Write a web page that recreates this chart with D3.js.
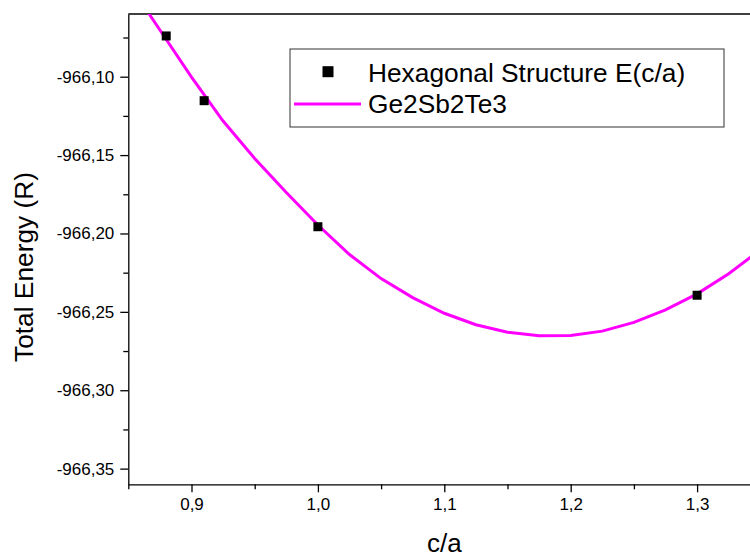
<!DOCTYPE html>
<html>
<head>
<meta charset="utf-8">
<script src="https://cdn.jsdelivr.net/npm/d3@7"></script>
<style>
    body { margin: 0; background: #fff; }
    svg text { font-family: "Liberation Sans", Arial, sans-serif; fill: #000; }
    .axis path, .axis line { stroke: #000; stroke-width: 1.3px; }
    .axis text { font-size: 17px; }
</style>
</head>
<body>
<svg id="chart" width="750" height="557"></svg>
<script>
// measured points: c/a ratio vs total energy (Ry)
const pointCa = [0.88, 0.91, 1.0, 1.3];
const pointEnergy = [-966.0740, -966.1153, -966.1957, -966.2394];

// fitted curve
const curveCa = [0.85, 0.875, 0.9, 0.925, 0.95, 0.975, 1.0, 1.025, 1.05, 1.075, 1.1,
    1.125, 1.15, 1.175, 1.2, 1.225, 1.25, 1.275, 1.3, 1.325, 1.35];
const curveEnergy = [-966.0402, -966.0702, -966.1002, -966.1283, -966.1522, -966.1739,
    -966.1946, -966.2134, -966.2288, -966.2409, -966.2509, -966.2582, -966.2630,
    -966.2653, -966.2651, -966.2623, -966.2567, -966.2487, -966.2385, -966.2257, -966.2105];

const xTicks = [0.9, 1.0, 1.1, 1.2, 1.3];
const xMinorTicks = [0.85, 0.95, 1.05, 1.15, 1.25, 1.35];
const yTicks = [-966.35, -966.30, -966.25, -966.20, -966.15, -966.10];
const yMinorTicks = [-966.325, -966.275, -966.225, -966.175, -966.125, -966.075];

const seriesNames = ['Hexagonal Structure E(c/a)', 'Ge2Sb2Te3'];

const margin = { top: 14, left: 128.3 };
const width = 632, height = 470.3;

// comma decimals, plain hyphen minus
const locale = d3.formatLocale({ decimal: ',', thousands: '.', grouping: [3], currency: ['', ''], minus: '-' });

const svg = d3.select('#chart');
const chart = svg.append('g')
    .attr('transform', `translate(${margin.left},${margin.top})`);

const xScale = d3.scaleLinear().domain([0.85, 1.35]).range([0, width]);
const yScale = d3.scaleLinear().domain([-966.36, -966.06]).range([height, 0]);

// clip to the plot frame
svg.append('defs').append('clipPath').attr('id', 'plot-clip')
    .append('rect').attr('width', width).attr('height', height);

// minor ticks first, then the major axes with labels
chart.append('g').attr('class', 'axis')
    .attr('transform', `translate(0,${height})`)
    .call(d3.axisBottom(xScale).tickValues(xMinorTicks).tickSize(5).tickFormat(''))
    .call(g => g.select('.domain').remove());
chart.append('g').attr('class', 'axis')
    .call(d3.axisLeft(yScale).tickValues(yMinorTicks).tickSize(5).tickFormat(''))
    .call(g => g.select('.domain').remove());

chart.append('g').attr('class', 'axis x-axis')
    .attr('transform', `translate(0,${height})`)
    .call(d3.axisBottom(xScale).tickValues(xTicks).tickSize(8).tickSizeOuter(0)
        .tickPadding(6).tickFormat(locale.format('.1f')));

chart.append('g').attr('class', 'axis y-axis')
    .call(d3.axisLeft(yScale).tickValues(yTicks).tickSize(8).tickSizeOuter(0)
        .tickPadding(6).tickFormat(locale.format('.2f')));

// top frame line
chart.append('line')
    .attr('x1', 0).attr('x2', width).attr('y1', 0).attr('y2', 0)
    .attr('stroke', '#000').attr('stroke-width', 1.3);

const plot = chart.append('g').attr('clip-path', 'url(#plot-clip)');

const curve = curveCa.map((c, i) => ({ x: c, y: curveEnergy[i] }));
const points = pointCa.map((c, i) => ({ x: c, y: pointEnergy[i] }));

plot.append('path')
    .datum(curve)
    .attr('fill', 'none')
    .attr('stroke', '#ff00ff')
    .attr('stroke-width', 3)
    .attr('d', d3.line().x(d => xScale(d.x)).y(d => yScale(d.y)));

const markerSize = 9;
plot.selectAll('.symbol')
    .data(points)
    .enter()
    .append('rect')
    .attr('class', 'symbol')
    .attr('x', d => xScale(d.x) - markerSize / 2)
    .attr('y', d => yScale(d.y) - markerSize / 2)
    .attr('width', markerSize)
    .attr('height', markerSize)
    .attr('fill', '#000');

// legend
const legend = svg.append('g').attr('transform', 'translate(290,49)');
legend.append('rect')
    .attr('width', 434).attr('height', 78)
    .attr('fill', '#fff').attr('stroke', '#333').attr('stroke-width', 1);
legend.append('rect')
    .attr('x', 38 - 5.5).attr('y', 22.7 - 5.5).attr('width', 11).attr('height', 11)
    .attr('fill', '#000');
legend.append('line')
    .attr('x1', 4).attr('x2', 71).attr('y1', 55).attr('y2', 55)
    .attr('stroke', '#ff00ff').attr('stroke-width', 3);
legend.selectAll('.legend-label')
    .data(seriesNames)
    .enter()
    .append('text')
    .attr('class', 'legend-label')
    .attr('x', 78)
    .attr('y', (d, i) => 32.5 + i * 31.8)
    .style('font-size', '26.3px')
    .text(d => d);

// axis titles
svg.append('text')
    .attr('x', margin.left + width / 2)
    .attr('y', 552)
    .attr('text-anchor', 'middle')
    .style('font-size', '26px')
    .text('c/a');

svg.append('text')
    .attr('transform', 'translate(33,267) rotate(-90)')
    .attr('text-anchor', 'middle')
    .style('font-size', '26.3px')
    .text('Total Energy (R)');
</script>
</body>
</html>
